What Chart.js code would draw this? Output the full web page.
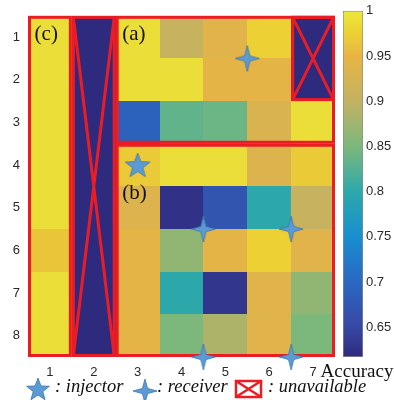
<!DOCTYPE html>
<html>
<head>
<meta charset="utf-8">
<script src="https://cdn.jsdelivr.net/npm/chart.js@4.4.1/dist/chart.umd.min.js"></script>
<style>
html, body { margin: 0; padding: 0; background: #fff; }
#wrap { position: relative; width: 394px; height: 400px; }
#wrap div { position: absolute; left: 0; top: 0; width: 394px; height: 400px; }
</style>
</head>
<body>
<div id="wrap">
  <div><canvas id="map"></canvas></div>
  <div><canvas id="bar"></canvas></div>
</div>
<script>
// grid of sensors
var cols = [1, 2, 3, 4, 5, 6, 7];
var rows = [1, 2, 3, 4, 5, 6, 7, 8];

// accuracy per row, left to right (unavailable cells sit at the bottom of the scale)
var acc_row1 = [0.99, 0.617, 0.99, 0.905, 0.94, 0.975, 0.617];
var acc_row2 = [0.99, 0.617, 0.99, 0.99, 0.945, 0.945, 0.617];
var acc_row3 = [0.99, 0.617, 0.69, 0.833, 0.84, 0.93, 0.99];
var acc_row4 = [0.99, 0.617, 0.97, 0.99, 0.99, 0.935, 0.97];
var acc_row5 = [0.99, 0.617, 0.935, 0.625, 0.67, 0.80, 0.905];
var acc_row6 = [0.965, 0.617, 0.945, 0.865, 0.945, 0.975, 0.94];
var acc_row7 = [0.99, 0.617, 0.945, 0.80, 0.63, 0.94, 0.865];
var acc_row8 = [0.99, 0.617, 0.945, 0.85, 0.885, 0.94, 0.85];
var acc = [acc_row1, acc_row2, acc_row3, acc_row4, acc_row5, acc_row6, acc_row7, acc_row8];

var injectors = [{x: 3, y: 4}];
var receivers = [{x: 5.5, y: 1.5}, {x: 4.5, y: 5.5}, {x: 6.5, y: 5.5}, {x: 4.5, y: 8.5}, {x: 6.5, y: 8.5}];

// red boxes [x0, x1, y0, y1] in cell units
var groups = [[0.5, 1.5, 0.5, 8.5], [2.5, 7.5, 0.5, 3.5], [2.5, 7.5, 3.5, 8.5]];
var unavailable = [[1.5, 2.5, 0.5, 8.5], [6.5, 7.5, 0.5, 2.5]];
var group_names = ['(c)', '(a)', '(b)'];
var group_name_at = [[0.65, 0.94], [2.65, 0.94], [2.65, 4.67]];

var cbar_ticks = [0.65, 0.7, 0.75, 0.8, 0.85, 0.9, 0.95, 1];
var cmin = 0.617, cmax = 1;
var cmap_stops = [
    [0.617, '#2e2a7e'], [0.65, '#3848a4'], [0.70, '#2a68c2'], [0.75, '#1a8ed0'],
    [0.80, '#2ca8aa'], [0.85, '#7cb87c'], [0.90, '#c2b262'], [0.95, '#e8b444'],
    [0.975, '#ecd034'], [1.0, '#ece83a']
];

var RED = '#ec1c24';
var BLUE = '#5b9bd5';
var BLUE_EDGE = '#3f74a8';

function hexRgb(h) {
    return [parseInt(h.substr(1, 2), 16), parseInt(h.substr(3, 2), 16), parseInt(h.substr(5, 2), 16)];
}

function cmapColor(v) {
    if (v <= cmap_stops[0][0]) return cmap_stops[0][1];
    for (let i = 1; i < cmap_stops.length; i++) {
        if (v <= cmap_stops[i][0]) {
            let a = cmap_stops[i - 1], b = cmap_stops[i];
            let t = (v - a[0]) / (b[0] - a[0]);
            let ca = hexRgb(a[1]), cb = hexRgb(b[1]);
            let c = ca.map((x, k) => Math.round(x + (cb[k] - x) * t));
            return 'rgb(' + c.join(',') + ')';
        }
    }
    return cmap_stops[cmap_stops.length - 1][1];
}

function drawStar5(ctx, cx, cy, R) {
    ctx.beginPath();
    for (let i = 0; i < 10; i++) {
        let r = i % 2 ? R * 0.42 : R;
        let a = -Math.PI / 2 + i * Math.PI / 5;
        ctx.lineTo(cx + r * Math.cos(a), cy + r * Math.sin(a));
    }
    ctx.closePath();
    ctx.fillStyle = BLUE;
    ctx.fill();
    ctx.lineWidth = 0.8;
    ctx.strokeStyle = BLUE_EDGE;
    ctx.stroke();
}

function drawStar4(ctx, cx, cy, rx, ry) {
    let r = 2.6;
    ctx.beginPath();
    ctx.moveTo(cx, cy - ry);
    ctx.lineTo(cx + r, cy - r);
    ctx.lineTo(cx + rx, cy);
    ctx.lineTo(cx + r, cy + r);
    ctx.lineTo(cx, cy + ry);
    ctx.lineTo(cx - r, cy + r);
    ctx.lineTo(cx - rx, cy);
    ctx.lineTo(cx - r, cy - r);
    ctx.closePath();
    ctx.fillStyle = BLUE;
    ctx.fill();
    ctx.lineWidth = 0.8;
    ctx.strokeStyle = BLUE_EDGE;
    ctx.stroke();
}

// point images
var starImg = document.createElement('canvas');
starImg.width = 28; starImg.height = 28;
drawStar5(starImg.getContext('2d'), 14, 15, 13);

var sparkImg = document.createElement('canvas');
sparkImg.width = 28; sparkImg.height = 30;
drawStar4(sparkImg.getContext('2d'), 14, 15, 12, 13);

function crossBox(ctx, x0, y0, x1, y1, lw) {
    ctx.lineWidth = lw;
    ctx.strokeStyle = RED;
    ctx.strokeRect(x0, y0, x1 - x0, y1 - y0);
    ctx.beginPath();
    ctx.moveTo(x0, y0); ctx.lineTo(x1, y1);
    ctx.moveTo(x1, y0); ctx.lineTo(x0, y1);
    ctx.stroke();
}

var heatPlugin = {
    id: 'heat',
    beforeDatasetsDraw: function(chart) {
        const ctx = chart.ctx;
        const xs = chart.scales.x, ys = chart.scales.y;
        ctx.save();
        for (let r = 0; r < rows.length; r++) {
            for (let c = 0; c < cols.length; c++) {
                let x0 = Math.round(xs.getPixelForValue(cols[c] - 0.5));
                let x1 = Math.round(xs.getPixelForValue(cols[c] + 0.5));
                let y0 = Math.round(ys.getPixelForValue(rows[r] - 0.5));
                let y1 = Math.round(ys.getPixelForValue(rows[r] + 0.5));
                ctx.fillStyle = cmapColor(acc[r][c]);
                ctx.fillRect(x0, y0, x1 - x0, y1 - y0);
            }
        }
        const ins = 1.5;
        ctx.lineWidth = 3;
        ctx.strokeStyle = RED;
        groups.forEach(function(g) {
            let x0 = xs.getPixelForValue(g[0]) + ins, x1 = xs.getPixelForValue(g[1]) - ins;
            let y0 = ys.getPixelForValue(g[2]) + ins, y1 = ys.getPixelForValue(g[3]) - ins;
            ctx.strokeRect(x0, y0, x1 - x0, y1 - y0);
        });
        unavailable.forEach(function(g) {
            let x0 = xs.getPixelForValue(g[0]) + ins, x1 = xs.getPixelForValue(g[1]) - ins;
            let y0 = ys.getPixelForValue(g[2]) + ins, y1 = ys.getPixelForValue(g[3]) - ins;
            crossBox(ctx, x0, y0, x1, y1, 3);
        });
        ctx.fillStyle = '#111';
        ctx.font = '21px "Liberation Serif"';
        ctx.textBaseline = 'middle';
        ctx.textAlign = 'left';
        group_names.forEach(function(t, i) {
            ctx.fillText(t, xs.getPixelForValue(group_name_at[i][0]), ys.getPixelForValue(group_name_at[i][1]));
        });
        ctx.restore();
    },
    afterDraw: function(chart) {
        const ctx = chart.ctx;
        ctx.save();
        ctx.fillStyle = '#111';
        ctx.textBaseline = 'alphabetic';
        ctx.font = '19px "Liberation Serif"';
        ctx.textAlign = 'center';
        ctx.fillText('Accuracy', 357, 377);
        // legend under the plot
        ctx.textAlign = 'left';
        ctx.font = 'italic 18.5px "Liberation Serif"';
        drawStar5(ctx, 38, 390, 12);
        ctx.fillStyle = '#111';
        ctx.fillText(': injector', 55, 392);
        drawStar4(ctx, 145, 391, 12, 12);
        ctx.fillStyle = '#111';
        ctx.fillText(': receiver', 157, 392);
        crossBox(ctx, 236, 381, 261, 397, 2.5);
        ctx.fillStyle = '#111';
        ctx.fillText(': unavailable', 268, 392);
        ctx.restore();
    }
};

var tickFont = { family: '"Liberation Sans", Arial, sans-serif', size: 13 };

new Chart(document.getElementById('map'), {
    type: 'scatter',
    data: {
        datasets: [{
            label: 'injector',
            data: injectors,
            pointStyle: starImg,
            pointRadius: 12,
            clip: false,
        }, {
            label: 'receiver',
            data: receivers,
            pointStyle: sparkImg,
            pointRadius: 12,
            clip: false,
        }],
    },
    options: {
        responsive: true,
        maintainAspectRatio: false,
        animation: false,
        layout: { padding: { top: 8, right: 59, left: 0, bottom: 0 } },
        plugins: { legend: { display: false }, tooltip: { enabled: false } },
        scales: {
            x: {
                type: 'linear', min: 0.5, max: 7.5,
                afterBuildTicks: function(s) { s.ticks = cols.map(v => ({ value: v })); },
                afterFit: function(s) { s.height = 43; },
                grid: { display: false, drawTicks: false },
                border: { display: false },
                ticks: { padding: 8, font: tickFont, color: '#2a2a2a', maxRotation: 0, autoSkip: false,
                    callback: v => String(v) },
            },
            y: {
                type: 'linear', min: 0.5, max: 8.5, reverse: true,
                afterBuildTicks: function(s) { s.ticks = rows.map(v => ({ value: v })); },
                afterFit: function(s) { s.width = 28; },
                grid: { display: false, drawTicks: false },
                border: { display: false },
                ticks: { padding: 8, font: tickFont, color: '#2a2a2a', autoSkip: false,
                    callback: v => String(v) },
            },
        },
    },
    plugins: [heatPlugin],
});

// colour bar
new Chart(document.getElementById('bar'), {
    type: 'bar',
    data: {
        labels: ['Accuracy'],
        datasets: [{
            data: [[cmin, cmax]],
            backgroundColor: function(c) {
                const a = c.chart.chartArea;
                if (!a) return null;
                const g = c.chart.ctx.createLinearGradient(0, a.bottom, 0, a.top);
                cmap_stops.forEach(s => g.addColorStop((s[0] - cmin) / (cmax - cmin), s[1]));
                return g;
            },
            borderColor: '#8c8c8c',
            borderWidth: 1,
            borderSkipped: false,
            barPercentage: 1,
            categoryPercentage: 1,
        }],
    },
    options: {
        responsive: true,
        maintainAspectRatio: false,
        animation: false,
        layout: { padding: { left: 343, top: 8, bottom: 43, right: 0 } },
        plugins: { legend: { display: false }, tooltip: { enabled: false } },
        scales: {
            x: { display: false },
            y: {
                position: 'right', min: cmin, max: cmax,
                afterBuildTicks: function(s) { s.ticks = cbar_ticks.map(v => ({ value: v })); },
                afterFit: function(s) { s.width = 31; },
                grid: { display: false, drawTicks: false },
                border: { display: false },
                ticks: { padding: 3, font: tickFont, color: '#2a2a2a', autoSkip: false,
                    callback: v => String(+v.toFixed(2)) },
            },
        },
    },
});
</script>
</body>
</html>
